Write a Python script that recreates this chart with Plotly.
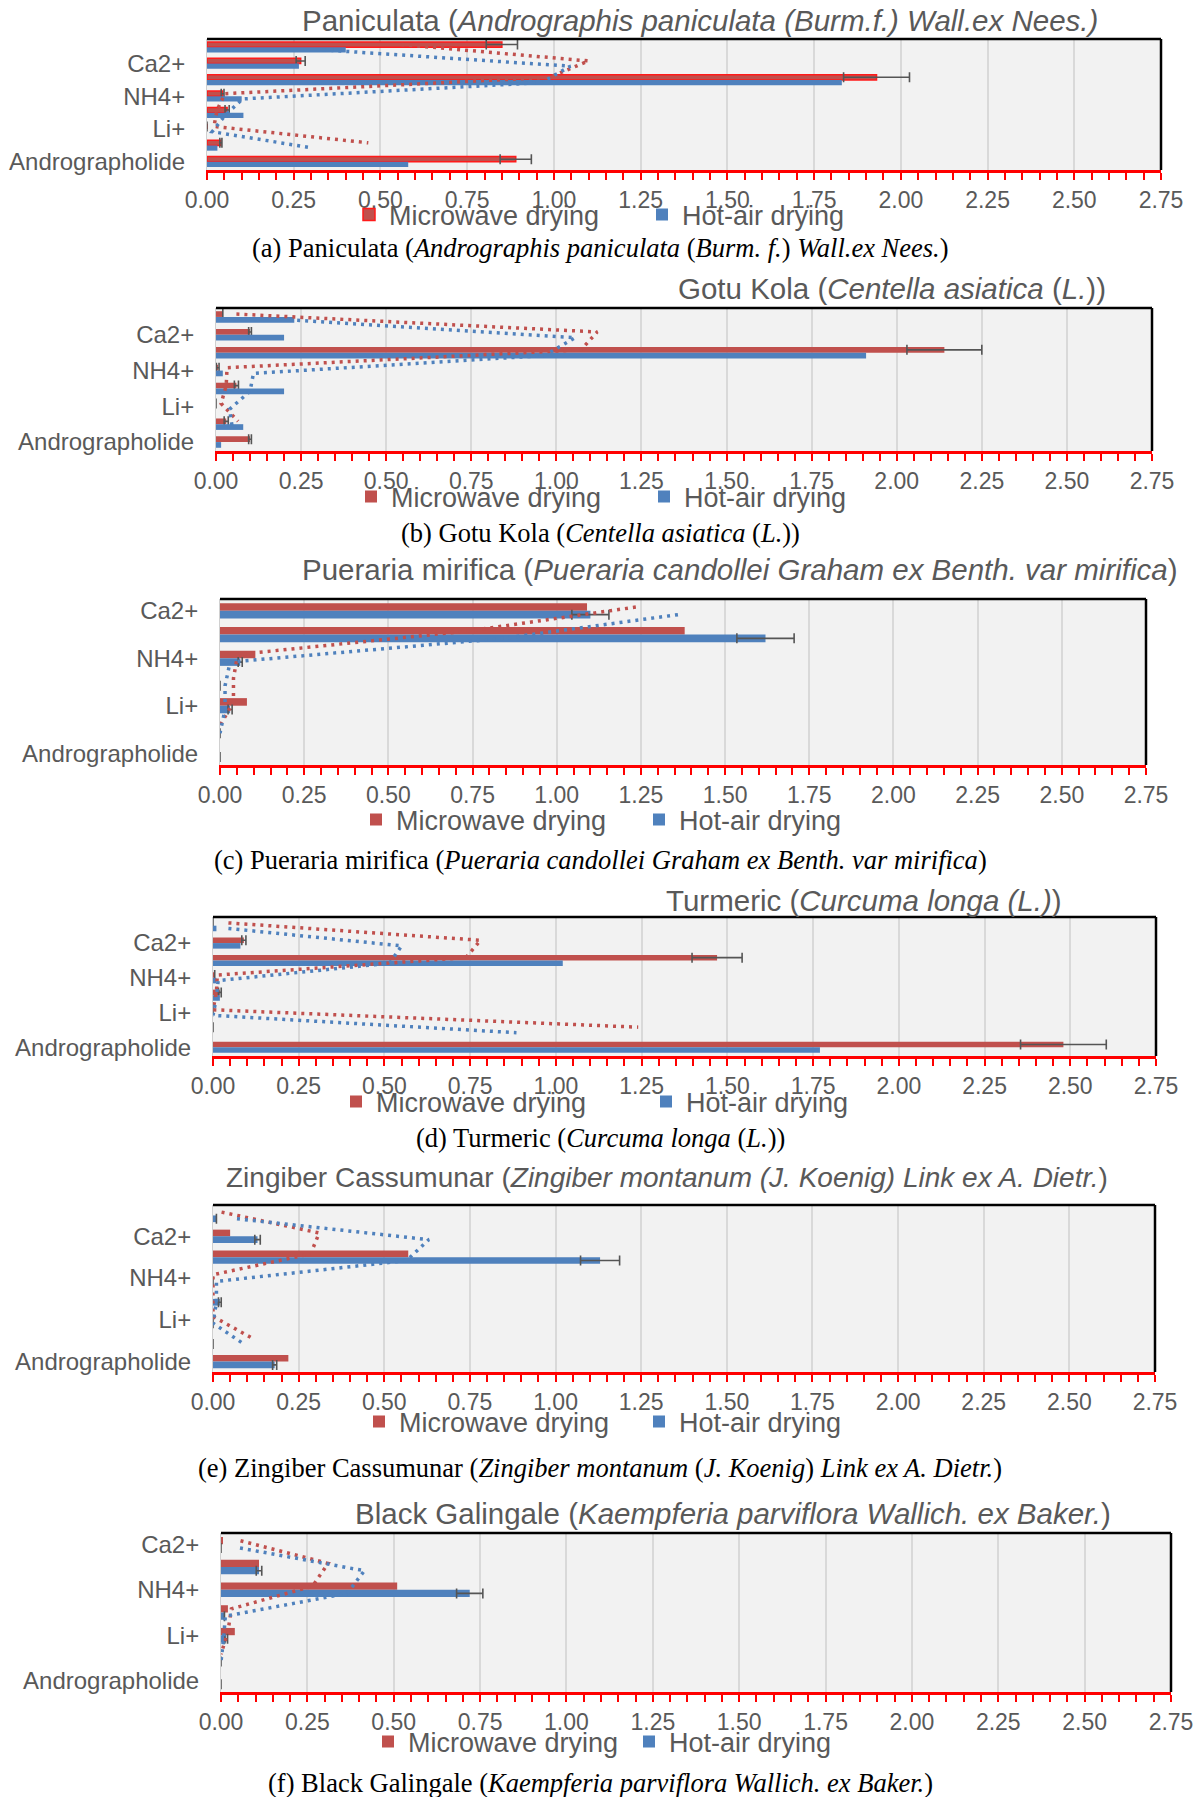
import plotly.graph_objects as go

W, H = 1194, 1797

# ---------------- data (categories listed top -> bottom) ----------------
CATS8 = ["Mg2+", "Ca2+", "K+", "NH4+", "Na+", "Li+", "Phenolics", "Andrographolide"]
CATS7 = ["Ca2+", "K+", "NH4+", "Na+", "Li+", "Phenolics", "Andrographolide"]
LABELED = ["Ca2+", "NH4+", "Li+", "Andrographolide"]
X_TICKS = [0.00, 0.25, 0.50, 0.75, 1.00, 1.25, 1.50, 1.75, 2.00, 2.25, 2.50, 2.75]

SERIES = ["Microwave drying", "Hot-air drying"]

# (a) Paniculata
a_mw = [0.85, 0.27, 1.93, 0.045, 0.058, 0.0, 0.04, 0.89]
a_mw_err = [0.045, 0.013, 0.095, 0.004, 0.006, None, 0.003, 0.045]
a_ha = [0.40, 0.265, 1.83, 0.10, 0.105, 0.0, 0.03, 0.58]
a_ha_err = None

# (b) Gotu Kola
b_mw = [0.02, 0.10, 2.14, 0.005, 0.06, 0.0, 0.03, 0.10]
b_mw_err = [None, 0.004, 0.11, 0.004, 0.006, None, 0.006, 0.004]
b_ha = [0.23, 0.20, 1.91, 0.02, 0.20, 0.0, 0.08, 0.015]
b_ha_err = None

# (c) Pueraria mirifica
c_mw = [1.09, 1.38, 0.105, 0.0, 0.08, 0.0, 0.0]
c_mw_err = None
c_ha = [1.10, 1.62, 0.06, 0.0, 0.03, 0.0, 0.0]
c_ha_err = [0.055, 0.085, 0.006, None, 0.006, None, None]

# (d) Turmeric
d_mw = [0.0, 0.09, 1.47, 0.005, 0.02, 0.0, 0.0, 2.48]
d_mw_err = [None, 0.006, 0.073, None, 0.004, None, None, 0.125]
d_ha = [0.01, 0.08, 1.02, 0.01, 0.02, 0.0, 0.0, 1.77]
d_ha_err = None

# (e) Zingiber Cassumunar
e_mw = [0.0, 0.05, 0.57, 0.0, 0.0, 0.0, 0.0, 0.22]
e_mw_err = None
e_ha = [0.01, 0.13, 1.13, 0.0, 0.02, 0.0, 0.0, 0.18]
e_ha_err = [None, 0.008, 0.057, None, 0.004, None, None, 0.006]

# (f) Black Galingale
f_mw = [0.003, 0.11, 0.51, 0.02, 0.04, 0.0, 0.0]
f_mw_err = None
f_ha = [0.0, 0.11, 0.72, 0.01, 0.015, 0.0, 0.0]
f_ha_err = [None, 0.008, 0.038, None, 0.004, None, None]

TITLES = [
    "Paniculata (<i>Andrographis paniculata (Burm.f.) Wall.ex Nees.)</i>",
    "Gotu Kola (<i>Centella asiatica</i> (<i>L.</i>))",
    "Pueraria mirifica (<i>Pueraria candollei Graham ex Benth. var mirifica</i>)",
    "Turmeric (<i>Curcuma longa (L.)</i>)",
    "Zingiber Cassumunar (<i>Zingiber montanum (J. Koenig) Link ex A. Dietr.</i>)",
    "Black Galingale (<i>Kaempferia parviflora Wallich. ex Baker.</i>)",
]
CAPTIONS = [
    "(a) Paniculata (<i>Andrographis paniculata</i> (<i>Burm. f.</i>) <i>Wall.ex Nees.</i>)",
    "(b) Gotu Kola (<i>Centella asiatica</i> (<i>L.</i>))",
    "(c) Pueraria mirifica (<i>Pueraria candollei Graham ex Benth. var mirifica</i>)",
    "(d) Turmeric (<i>Curcuma longa</i> (<i>L.</i>))",
    "(e) Zingiber Cassumunar (<i>Zingiber montanum</i> (<i>J. Koenig</i>) <i>Link ex A. Dietr.</i>)",
    "(f) Black Galingale (<i>Kaempferia parviflora Wallich. ex Baker.</i>)",
]

PANELS = [
    (CATS8, a_mw, a_mw_err, a_ha, a_ha_err),
    (CATS8, b_mw, b_mw_err, b_ha, b_ha_err),
    (CATS7, c_mw, c_mw_err, c_ha, c_ha_err),
    (CATS8, d_mw, d_mw_err, d_ha, d_ha_err),
    (CATS8, e_mw, e_mw_err, e_ha, e_ha_err),
    (CATS7, f_mw, f_mw_err, f_ha, f_ha_err),
]

# ---------------- layout geometry (pixels) ----------------
PLOT_BOX = [  # x0, x1, y_top, y_bottom
    (207, 1161, 39, 170),
    (216, 1152, 308, 451),
    (220, 1146, 599, 765),
    (213, 1156, 917, 1056),
    (213, 1155, 1205, 1372),
    (221, 1171, 1533, 1692),
]
TITLE_POS = [(700, 21), (892, 288), (740, 569), (864, 900), (667, 1177), (733, 1513)]
TITLE_SIZE = [29.5, 29.5, 29.5, 29.5, 28, 29.5]
CAPTION_Y = [248, 533, 860, 1138, 1468, 1783]
LEGEND_POS = [(367, 215, 293), (369, 497, 293), (374, 820, 283),
              (354, 1102, 310), (377, 1422, 280), (386, 1742, 261)]

RED = "#C0504D"
BLUE = "#4F81BD"
GRAY = "#595959"
SANS = "Liberation Sans, Arial, sans-serif"
SERIF = "Liberation Serif, Times New Roman, serif"


def moving_avg(v):
    # Excel 2-period moving-average trendline, shown in the original chart
    return [(v[i] + v[i + 1]) / 2 for i in range(len(v) - 1)]


fig = go.Figure()
layout = dict(
    width=W, height=H, margin=dict(l=0, r=0, t=0, b=0, autoexpand=False),
    paper_bgcolor="white", plot_bgcolor="#F2F2F2",
    barmode="group", bargap=0.36, bargroupgap=0.0,
    scattermode="group", scattergap=0.36,
    showlegend=True, annotations=[], shapes=[],
)

for k, (cats, mw, mw_err, ha, ha_err) in enumerate(PANELS, start=1):
    xa = "x" if k == 1 else f"x{k}"
    ya = "y" if k == 1 else f"y{k}"
    lg = "legend" if k == 1 else f"legend{k}"
    grp = f"g{k}"
    red_line = dict(color="#FF1A1A", width=1.5) if k == 1 else dict(width=0)

    for name, vals, err, col, og, rank, mline in [
        (SERIES[0], mw, mw_err, RED, "mw", 1, red_line),
        (SERIES[1], ha, ha_err, BLUE, "ha", 2, dict(width=0)),
    ]:
        bar = go.Bar(
            x=vals, y=cats, orientation="h", name=name,
            marker=dict(color=col, line=mline),
            offsetgroup=og, alignmentgroup=grp,
            xaxis=xa, yaxis=ya, legend=lg, legendrank=rank,
            hoverinfo="skip",
        )
        if err is not None:
            bar.error_x = dict(type="data", array=err, visible=True,
                               color="#555555", thickness=1.6, width=5)
        fig.add_trace(bar)

    for vals, col, og in [(mw, RED, "mw"), (ha, BLUE, "ha")]:
        fig.add_trace(go.Scatter(
            x=moving_avg(vals), y=cats[:-1], orientation="h", mode="lines",
            line=dict(color=col, width=3.5, dash="3px,5px"),
            offsetgroup=og, alignmentgroup=grp,
            xaxis=xa, yaxis=ya, showlegend=False, hoverinfo="skip",
        ))

    x0, x1, yt, yb = PLOT_BOX[k - 1]
    xkey = "xaxis" if k == 1 else f"xaxis{k}"
    ykey = "yaxis" if k == 1 else f"yaxis{k}"
    layout[xkey] = dict(
        domain=[x0 / W, x1 / W], anchor=ya, range=[0, 2.75], automargin=False,
        tickvals=X_TICKS, tickformat=".2f",
        showgrid=True, gridcolor="#D9D9D9", gridwidth=1.5, zeroline=False,
        showline=True, linecolor="#FF0000", linewidth=3,
        ticks="outside", tickcolor="#FF0000", ticklen=7, tickwidth=2,
        minor=dict(dtick=0.05, tick0=0, ticks="outside", tickcolor="#FF0000",
                   ticklen=7, tickwidth=2, showgrid=False),
        tickfont=dict(family=SANS, size=23, color=GRAY),
        ticklabelstandoff=0, fixedrange=True,
    )
    layout[ykey] = dict(
        domain=[1 - yb / H, 1 - yt / H], anchor=xa, type="category", automargin=False,
        categoryorder="array", categoryarray=cats, autorange="reversed",
        tickvals=LABELED, ticks="", showgrid=False, zeroline=False,
        showline=True, linecolor="#D0D0D0", linewidth=1,
        tickfont=dict(family=SANS, size=24, color=GRAY),
        ticklabelstandoff=16, fixedrange=True,
    )
    # top and right borders of plot area
    layout["shapes"].append(dict(type="line", xref=f"{xa} domain", yref=f"{ya} domain",
                                 x0=0, x1=1.0, y0=1, y1=1,
                                 line=dict(color="black", width=2.5), layer="above"))
    layout["shapes"].append(dict(type="line", xref=f"{xa} domain", yref=f"{ya} domain",
                                 x0=1, x1=1, y0=0, y1=1,
                                 line=dict(color="black", width=2.5), layer="above"))
    tx, ty = TITLE_POS[k - 1]
    layout["annotations"].append(dict(
        text=TITLES[k - 1], x=tx / W, y=1 - ty / H, xref="paper", yref="paper",
        xanchor="center", yanchor="middle", showarrow=False,
        font=dict(family=SANS, size=TITLE_SIZE[k - 1], color=GRAY)))
    layout["annotations"].append(dict(
        text=CAPTIONS[k - 1], x=600 / W, y=1 - CAPTION_Y[k - 1] / H,
        xref="paper", yref="paper", xanchor="center", yanchor="middle",
        showarrow=False, font=dict(family=SERIF, size=26.5, color="black")))
    lx, ly, spacing = LEGEND_POS[k - 1]
    layout[lg] = dict(
        orientation="h", x=(lx - 18) / W, xanchor="left", y=1 - ly / H, yanchor="middle",
        font=dict(family=SANS, size=27, color=GRAY), bgcolor="rgba(0,0,0,0)",
        entrywidth=spacing - 45, entrywidthmode="pixels", itemwidth=30,
        traceorder="normal",
    )

fig.update_layout(**layout)
fig.write_html("out.html")
